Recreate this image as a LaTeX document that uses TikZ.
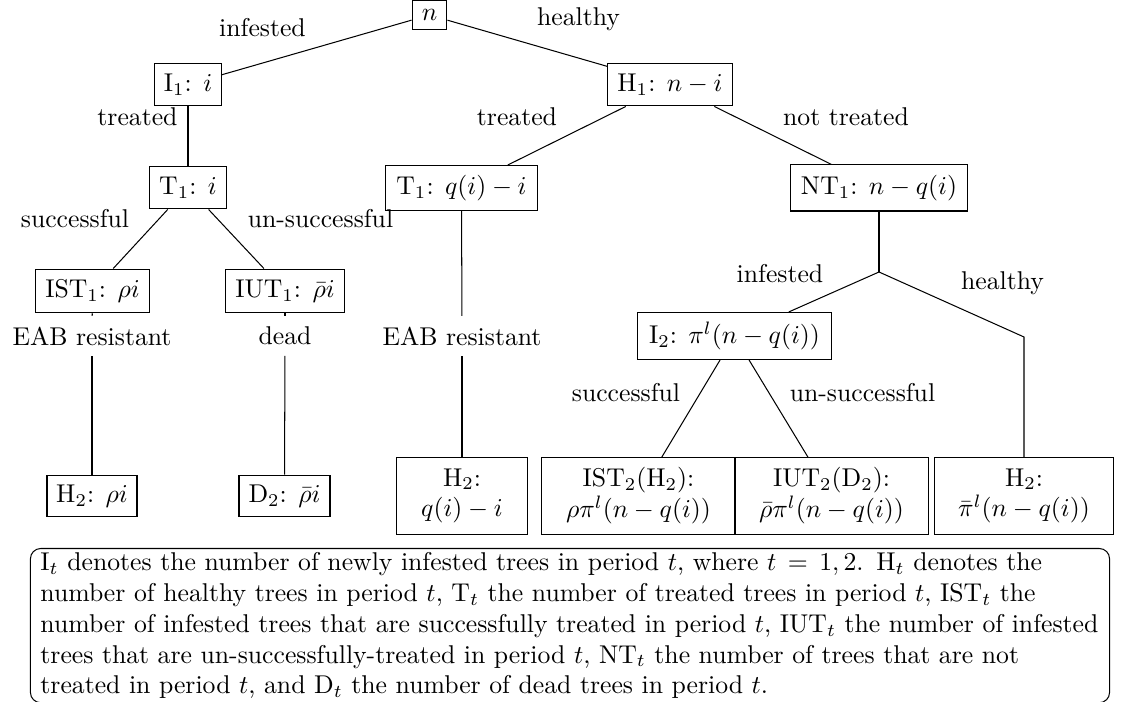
\documentclass[tikz,border=0pt]{standalone}
\usepackage{amsmath}
\begin{document}
\begin{tikzpicture}[x=0.389pt,y=-0.389pt,
  box/.style={draw, inner sep=0pt, align=center},
  lbl/.style={inner sep=0pt},
  midlbl/.style={inner sep=4pt},
  capbox/.style={draw, rounded corners=4pt, align=left, inner xsep=3.9pt, inner ysep=1.5pt}]
\useasboundingbox (0,0) rectangle (1122,702);
% tree nodes
\node[box, minimum width=13.6pt, minimum height=11.3pt] (n) at (429.5,15) {$n$};
\node[box, minimum width=25.7pt, minimum height=16.7pt] (I1) at (188,84.5) {I$_1$: $i$};
\node[box, minimum width=48.6pt, minimum height=16.7pt] (H1) at (670,84.5) {H$_1$: $n-i$};
\node[box, minimum width=29.6pt, minimum height=16.7pt] (T1a) at (188,187.5) {T$_1$: $i$};
\node[box, minimum width=59.1pt, minimum height=17.5pt] (T1b) at (461.5,188) {T$_1$: $q(i)-i$};
\node[box, minimum width=69.2pt, minimum height=17.9pt] (NT1) at (879,188) {NT$_1$: $n-q(i)$};
\node[box, minimum width=44.3pt, minimum height=17.1pt] (IST1) at (92.5,291) {IST$_1$: $\rho i$};
\node[box, minimum width=46.3pt, minimum height=17.1pt] (IUT1) at (285,291) {IUT$_1$: $\bar\rho i$};
\node[box, minimum width=75.1pt, minimum height=18.3pt] (I2) at (734.5,336) {I$_2$: $\pi^l(n-q(i))$};
\node[box, minimum width=35pt, minimum height=16.3pt] (H2a) at (92,496) {H$_2$: $\rho i$};
\node[box, minimum width=35.4pt, minimum height=16.3pt] (D2) at (284.5,496) {D$_2$: $\bar\rho i$};
\node[box, minimum width=50.6pt, minimum height=29.6pt] (H2b) at (462,496) {H$_2$:\\$q(i)-i$};
\node[box, minimum width=75.1pt, minimum height=29.6pt] (IST2) at (638.5,496) {IST$_2$(H$_2$):\\$\rho\pi^l(n-q(i))$};
\node[box, minimum width=75.1pt, minimum height=29.6pt] (IUT2) at (831.5,496) {IUT$_2$(D$_2$):\\$\bar\rho\pi^l(n-q(i))$};
\node[box, minimum width=70pt, minimum height=29.6pt] (H2c) at (1024,496) {H$_2$:\\$\bar\pi^l(n-q(i))$};
% mid-line labels
\node[midlbl] (eabL) at (92,336) {EAB resistant};
\node[midlbl] (dead) at (285,336) {dead};
\node[midlbl] (eabM) at (462,336) {EAB resistant};
% junction points
\coordinate (J) at (879,272);
\coordinate (K) at (1024,337);
% edge labels
\node[lbl] (l1) at (262.5,28) {infested};
\node[lbl] (l2) at (578.5,19) {healthy};
\node[lbl] (l3) at (137.5,117) {treated};
\node[lbl] (l4) at (517,117) {treated};
\node[lbl] (l5) at (846,117) {not treated};
\node[lbl] (l6) at (75,219) {successful};
\node[lbl] (l7) at (320.5,219) {un-successful};
\node[lbl] (l8) at (780,274) {infested};
\node[lbl] (l9) at (1002.5,283) {healthy};
\node[lbl] (l10) at (626,393) {successful};
\node[lbl] (l11) at (862.5,393) {un-successful};
% connectors
\draw (n) -- (I1);
\draw (n) -- (H1);
\draw (I1) -- (T1a);
\draw (H1) -- (T1b);
\draw (H1) -- (NT1);
\draw (T1a) -- (IST1);
\draw (T1a) -- (IUT1);
\draw (IST1) -- (eabL);
\draw (eabL) -- (H2a);
\draw (IUT1) -- (dead);
\draw (dead) -- (D2);
\draw (T1b) -- (eabM);
\draw (eabM) -- (H2b);
\draw (NT1) -- (J);
\draw (J) -- (I2);
\draw (J) -- (K) -- (H2c);
\draw (I2) -- (IST2);
\draw (I2) -- (IUT2);
% caption
\node[capbox, text width=412pt, anchor=north] (cap) at (570,548) {I$_t$ denotes the number of newly infested trees in period $t$, where $t\,=\,1,2$. H$_t$ denotes the\\
number of healthy trees in period $t$, T$_t$ the number of treated trees in period $t$, IST$_t$ the\\
number of infested trees that are successfully treated in period $t$, IUT$_t$ the number of infested\\
trees that are un-successfully-treated in period $t$, NT$_t$ the number of trees that are not\\
treated in period $t$, and D$_t$ the number of dead trees in period $t$.};
\end{tikzpicture}
\end{document}
